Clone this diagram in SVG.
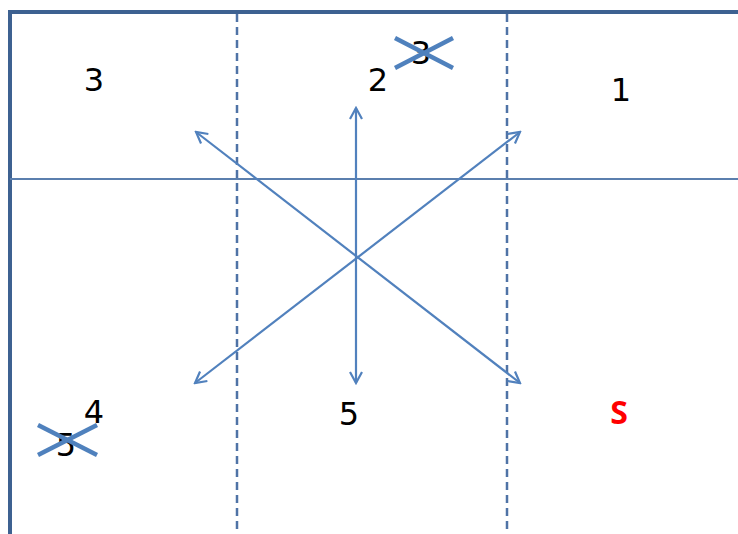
<svg xmlns="http://www.w3.org/2000/svg" width="738" height="534" viewBox="0 0 738 534">
<style>
.border{stroke:#3d6191;stroke-width:4;fill:none}
.hline{stroke:#5b7fae;stroke-width:2;fill:none}
.dash{stroke:#4f73a6;stroke-width:2.5;stroke-dasharray:8 5;fill:none}
.arrow{stroke:#5181bd;stroke-width:2.2;fill:none;marker-start:url(#head);marker-end:url(#head)}
.cross{stroke:#4f81bd;stroke-width:4.5;stroke-linecap:butt}
.num{font-family:"DejaVu Sans",Verdana,sans-serif;font-size:32px;fill:#000;text-anchor:middle}
.s{font-family:"Open Sans","Liberation Sans",sans-serif;font-weight:bold;font-size:32px;fill:#ff0000;text-anchor:middle}
</style>
<defs>
<marker id="head" viewBox="0 0 14 14" refX="12" refY="7" markerWidth="14" markerHeight="14" markerUnits="userSpaceOnUse" orient="auto-start-reverse">
<path d="M1,1 L12,7 L1,13" fill="none" stroke="#5181bd" stroke-width="2.2"/>
</marker>
</defs>
<rect width="738" height="534" fill="#fff"/>
<g id="grid">
<path class="border" d="M10,534 V12 H738"/>
<line class="hline" x1="10" y1="179" x2="738" y2="179"/>
<line class="dash" x1="237" y1="14" x2="237" y2="532"/>
<line class="dash" x1="507" y1="14" x2="507" y2="532"/>
</g>
<g id="connectors">
<line class="arrow" x1="356" y1="383" x2="356" y2="108"/>
<line class="arrow" x1="520" y1="383" x2="196" y2="132"/>
<line class="arrow" x1="195" y1="383" x2="520" y2="132"/>
</g>
<g id="cell-3"><text class="num" x="94" y="91">3</text></g>
<g id="cell-2"><text class="num" x="378" y="91">2</text></g>
<g id="cell-3-crossed">
<text class="num" x="421" y="64">3</text>
<line class="cross" x1="395" y1="38" x2="453" y2="68"/>
<line class="cross" x1="395" y1="68" x2="453" y2="38"/>
</g>
<g id="cell-1"><text class="num" x="621" y="101">1</text></g>
<g id="cell-4"><text class="num" x="94" y="423">4</text></g>
<g id="cell-5-crossed">
<text class="num" x="66" y="456">5</text>
<line class="cross" x1="38" y1="425" x2="97" y2="455"/>
<line class="cross" x1="38" y1="455" x2="97" y2="425"/>
</g>
<g id="cell-5"><text class="num" x="349" y="425">5</text></g>
<g id="cell-S"><text class="s" x="619" y="424">S</text></g>
</svg>
